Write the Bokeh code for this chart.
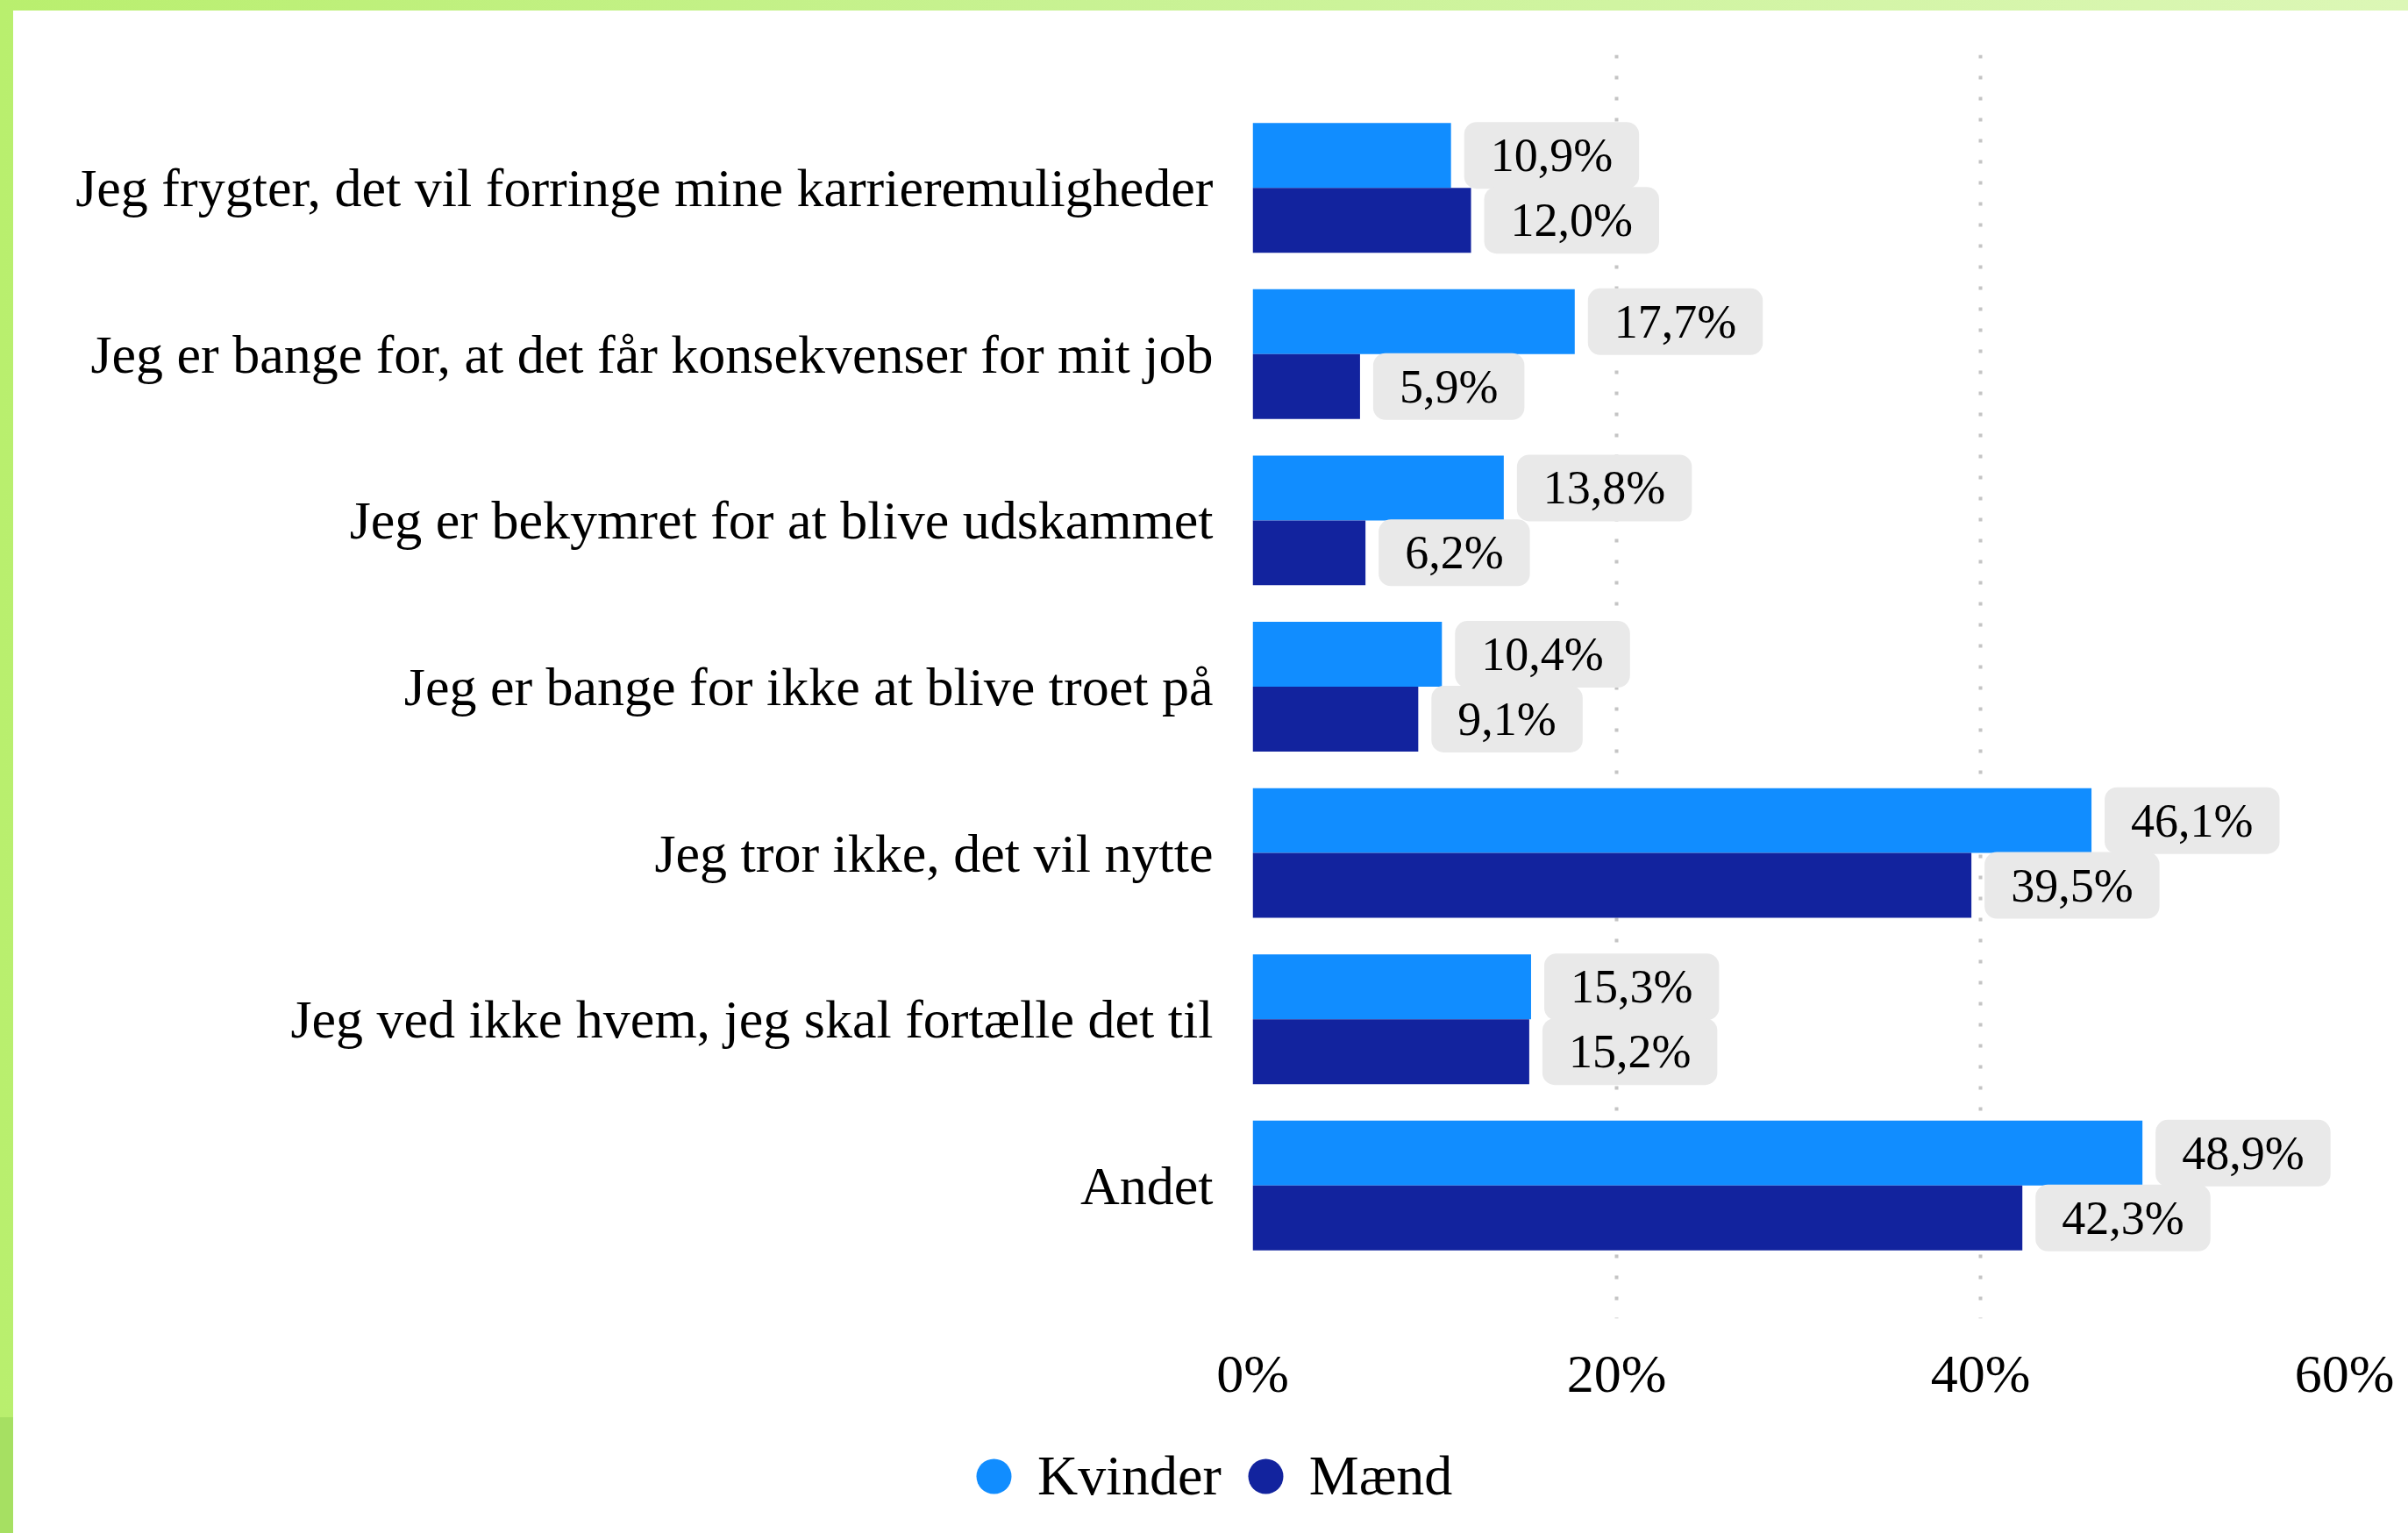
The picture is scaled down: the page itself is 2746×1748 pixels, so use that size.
from bokeh.plotting import figure
from bokeh.models import ColumnDataSource, Range1d, FixedTicker, Legend, LegendItem
from bokeh.core.properties import value
from bokeh.layouts import column
from bokeh.embed import file_html
from bokeh.resources import INLINE

categories = [
    "Jeg frygter, det vil forringe mine karrieremuligheder",
    "Jeg er bange for, at det får konsekvenser for mit job",
    "Jeg er bekymret for at blive udskammet",
    "Jeg er bange for ikke at blive troet på",
    "Jeg tror ikke, det vil nytte",
    "Jeg ved ikke hvem, jeg skal fortælle det til",
    "Andet",
]
kvinder = [10.9, 17.7, 13.8, 10.4, 46.1, 15.3, 48.9]
maend = [12.0, 5.9, 6.2, 9.1, 39.5, 15.2, 42.3]
series_names = ["Kvinder", "Mænd"]
series_colors = ["#118DFF", "#12239E"]
x_ticks = [0, 20, 40, 60]
x_tick_labels = ["0%", "20%", "40%", "60%"]

FONT = "Liberation Serif"


def fmt(v):
    return f"{v:.1f}".replace(".", ",") + "%"


idx = list(range(len(categories)))
offset = 0.195
bar_h = 0.39

W = 2731
p = figure(width=W, height=1604, output_backend="svg", toolbar_location=None,
           x_range=Range1d(0, 60), y_range=Range1d(6.8, -0.8),
           min_border_left=1413, min_border_right=73, min_border_top=50, min_border_bottom=113,
           border_fill_color="white", background_fill_color="white",
           styles={"background": "white"})
p.outline_line_color = None

for vals, sign, color in [(kvinder, -1, series_colors[0]), (maend, 1, series_colors[1])]:
    src = ColumnDataSource(dict(y=[i + sign * offset for i in idx], v=vals, label=[fmt(v) for v in vals]))
    p.hbar(y="y", left=0, right="v", height=bar_h, fill_color=color, line_color=None, source=src)
    p.text(x="v", y="y", text="label", source=src, x_offset=15,
           text_align="left", text_baseline="middle", text_font=value(FONT),
           text_font_size="54px", text_color="#000000",
           background_fill_color="#E9E9E9",
           padding=dict(left=30, right=30, top=8, bottom=8), border_radius=14)

p.xaxis.ticker = FixedTicker(ticks=x_ticks)
p.xaxis.major_label_overrides = dict(zip(x_ticks, x_tick_labels))
p.xaxis.major_label_text_font = FONT
p.xaxis.major_label_text_font_size = "62px"
p.xaxis.major_label_text_color = "#000000"
p.xaxis.major_label_standoff = 22
p.xaxis.axis_line_color = None
p.xaxis.major_tick_line_color = None
p.xaxis.minor_tick_line_color = None

p.yaxis.ticker = FixedTicker(ticks=idx)
p.yaxis.major_label_overrides = {i: c for i, c in enumerate(categories)}
p.yaxis.major_label_text_font = FONT
p.yaxis.major_label_text_font_size = "62px"
p.yaxis.major_label_text_color = "#000000"
p.yaxis.major_label_standoff = 39
p.yaxis.axis_line_color = None
p.yaxis.major_tick_line_color = None
p.yaxis.minor_tick_line_color = None

p.ygrid.grid_line_color = None
p.xgrid.grid_line_color = "#C4C4C4"
p.xgrid.grid_line_width = 4
p.xgrid.grid_line_dash = "4 20"

top = column(p, styles={
    "background": "linear-gradient(to right, #b9ef6e, #c8f293 45%, #dcf7b6)",
    "padding-left": "15px",
    "padding-top": "12px",
})

# legend strip below the chart (separate root so it is not frame-aligned)
lf = figure(width=W, height=132, output_backend="svg", toolbar_location=None,
            x_range=Range1d(0, 1), y_range=Range1d(0, 1),
            min_border=0, border_fill_color="white", background_fill_color="white",
            styles={"background": "white"})
lf.outline_line_color = None
lf.axis.visible = False
lf.grid.visible = False
legend_renderers = []
for color in series_colors:
    # marker placed outside the visible range; it only feeds the legend swatch
    s = lf.scatter(x=[5], y=[5], marker="circle", fill_color=color, line_color=None)
    legend_renderers.append(s)

legend = Legend(items=[LegendItem(label=n, renderers=[r]) for n, r in zip(series_names, legend_renderers)],
                orientation="horizontal", location=(1068, 15), glyph_width=100, glyph_height=100,
                label_standoff=-37, spacing=-20, padding=0, margin=0, border_line_color=None,
                background_fill_alpha=0, label_text_font=FONT, label_text_font_size="64px",
                label_text_color="#000000")
lf.add_layout(legend, "center")

bottom = column(lf, styles={
    "background": "#a6e062",
    "padding-left": "15px",
})

open("out.html", "w").write(file_html([top, bottom], INLINE))
